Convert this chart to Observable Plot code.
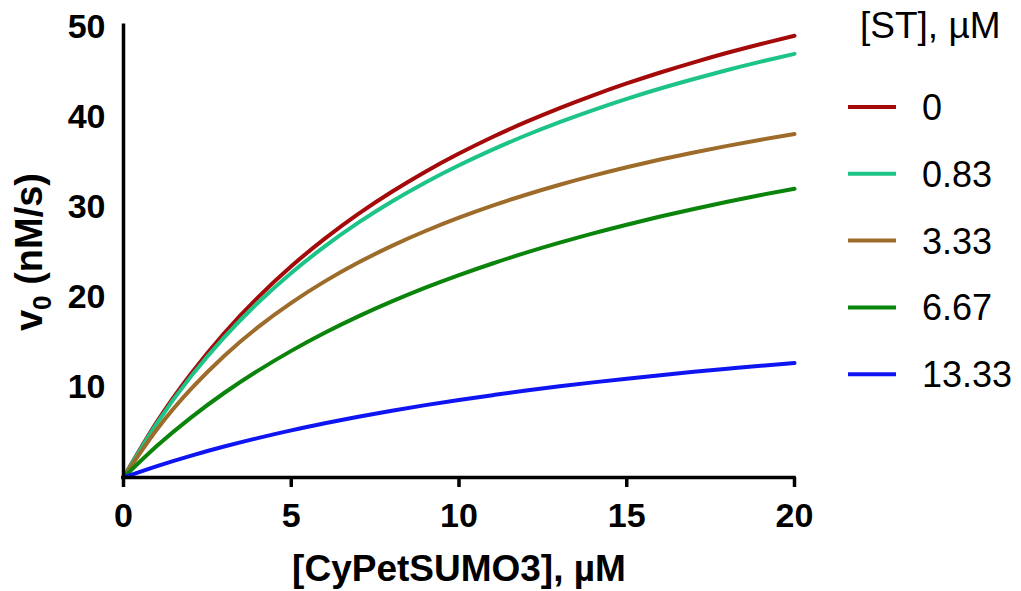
<!DOCTYPE html>
<html>
<head>
<meta charset="utf-8">
<script src="https://cdn.jsdelivr.net/npm/d3@7"></script>
<script src="https://cdn.jsdelivr.net/npm/@observablehq/plot@0.6"></script>
<style>
  html, body { margin: 0; padding: 0; background: #fff; }
  svg { display: block; }
</style>
</head>
<body>
<script>
// substrate concentration [CyPetSUMO3], µM
const xValues = [0, 1, 2, 3, 4, 5, 6, 7, 8, 9, 10, 11, 12, 13, 14, 15, 16, 17, 18, 19, 20];
// v0 (nM/s) for each [ST], µM
const st0    = [0, 6.20, 11.48, 16.03, 19.99, 23.47, 26.54, 29.29, 31.75, 33.98, 35.99, 37.83, 39.51, 41.05, 42.47, 43.78, 45.00, 46.13, 47.19, 48.17, 49.09];
const st083  = [0, 6.05, 11.18, 15.57, 19.39, 22.73, 25.68, 28.31, 30.66, 32.78, 34.69, 36.43, 38.03, 39.49, 40.83, 42.07, 43.22, 44.28, 45.28, 46.21, 47.07];
const st333  = [0, 5.36, 9.79, 13.51, 16.68, 19.41, 21.79, 23.88, 25.74, 27.39, 28.87, 30.21, 31.42, 32.53, 33.54, 34.47, 35.33, 36.12, 36.85, 37.53, 38.17];
const st667  = [0, 3.52, 6.63, 9.39, 11.85, 14.07, 16.08, 17.90, 19.56, 21.09, 22.49, 23.78, 24.98, 26.09, 27.13, 28.09, 29.00, 29.84, 30.64, 31.39, 32.09];
const st1333 = [0, 1.27, 2.41, 3.44, 4.38, 5.24, 6.02, 6.75, 7.42, 8.04, 8.62, 9.15, 9.66, 10.13, 10.57, 10.98, 11.37, 11.74, 12.08, 12.41, 12.72];

const seriesLabels = ["0", "0.83", "3.33", "6.67", "13.33"];
const seriesColors = ["#a50a0a", "#1dc488", "#9e6c2a", "#0a840a", "#0f14f2"];
const xTicks = [0, 5, 10, 15, 20];
const yTicks = [10, 20, 30, 40, 50];

const seriesValues = [st0, st083, st333, st667, st1333];
const table = [];
seriesValues.forEach((vals, i) => {
  vals.forEach((v, j) => table.push({x: xValues[j], v, s: seriesLabels[i]}));
});

const W = 1021, H = 591;
const FONT = "'Liberation Sans', Arial, Helvetica, sans-serif";

const svg = Plot.plot({
  width: W,
  height: H,
  marginLeft: 123,
  marginRight: 227,
  marginTop: 27,
  marginBottom: 114,
  style: {fontFamily: FONT, background: "#fff", color: "#000", overflow: "visible"},
  x: {domain: [0, 20]},
  y: {domain: [0, 50]},
  color: {domain: seriesLabels, range: seriesColors},
  marks: [
    Plot.line(table, {x: "x", y: "v", z: "s", stroke: "s", strokeWidth: 4, curve: "natural"}),
    Plot.ruleY([0], {x1: 0, x2: 20, stroke: "#000", strokeWidth: 3.5, strokeLinecap: "square"}),
    Plot.ruleX([0], {y1: 0, y2: 50.2, stroke: "#000", strokeWidth: 3.5, strokeLinecap: "square"}),
    Plot.axisX({ticks: xTicks, tickSize: 10, tickPadding: 15, stroke: "#000", strokeWidth: 3.5,
      fontSize: 34, fontWeight: "bold", tickFormat: d => String(d), label: null}),
    Plot.axisY({ticks: yTicks, tickSize: 0, tickPadding: 18,
      fontSize: 34, fontWeight: "bold", tickFormat: d => String(d), label: null})
  ]
});

const s = d3.select(svg);

// x-axis title
s.append("text")
  .attr("x", 459).attr("y", 581)
  .attr("text-anchor", "middle")
  .attr("font-family", FONT).attr("font-size", 37).attr("font-weight", "bold")
  .attr("fill", "#000")
  .text("[CyPetSUMO3], \u00b5M");

// y-axis title with subscript
const yt = s.append("text")
  .attr("transform", "translate(42,252) rotate(-90)")
  .attr("text-anchor", "middle")
  .attr("font-family", FONT).attr("font-size", 38).attr("font-weight", "bold")
  .attr("fill", "#000");
yt.append("tspan").text("v");
yt.append("tspan").attr("font-size", 26).attr("dy", 9).text("0");
yt.append("tspan").attr("dy", -9).text(" (nM/s)");

// legend
const lg = s.append("g").attr("font-family", FONT).attr("fill", "#000").attr("text-anchor", "start");
lg.append("text")
  .attr("x", 860).attr("y", 38)
  .attr("font-size", 37)
  .text("[ST], \u00b5M");
seriesLabels.forEach((lab, i) => {
  const y = 107 + i * 66.8;
  lg.append("line")
    .attr("x1", 848).attr("x2", 896).attr("y1", y).attr("y2", y)
    .attr("stroke", seriesColors[i]).attr("stroke-width", 4);
  lg.append("text")
    .attr("x", 922).attr("y", y).attr("dy", "0.36em")
    .attr("font-size", 36)
    .text(lab);
});

document.body.appendChild(svg);
</script>
</body>
</html>
